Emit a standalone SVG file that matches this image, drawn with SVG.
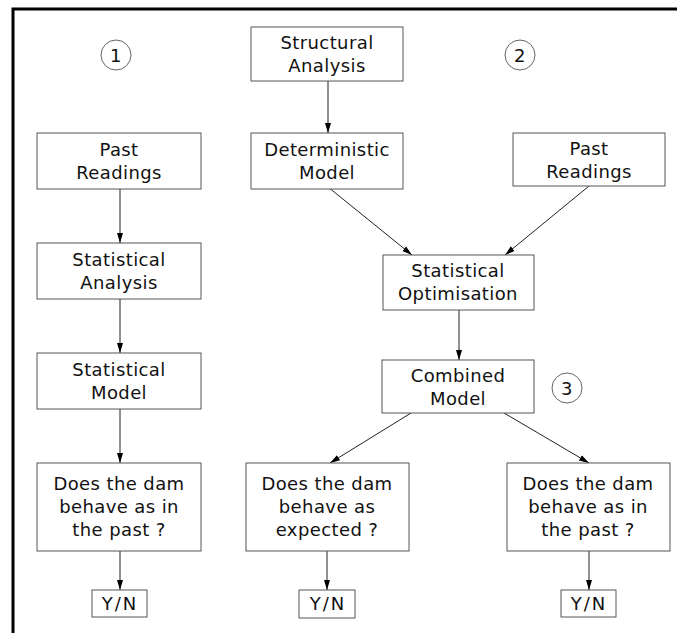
<svg xmlns="http://www.w3.org/2000/svg" width="677" height="633" viewBox="0 0 677 633">
<style>
.box{fill:#fff;stroke:#555;stroke-width:1}
.t{font-family:"DejaVu Sans",sans-serif;font-size:18px;letter-spacing:0.4px;fill:#111;text-anchor:middle}
.yn{letter-spacing:2px}
.c{fill:#fff;stroke:#666;stroke-width:1}
.e{stroke:#222;stroke-width:1;fill:none;marker-end:url(#ah)}
</style>
<defs>
<marker id="ah" viewBox="0 0 10 10" refX="10" refY="5" markerWidth="10" markerHeight="10" markerUnits="userSpaceOnUse" orient="auto">
<path d="M0,2 L10,5 L0,8 Z" fill="#000"/>
</marker>
</defs>
<rect width="677" height="633" fill="#fff"/>
<path d="M13,633 L13,9 L677,9" fill="none" stroke="#000" stroke-width="3"/>
<g id="connectors">
<line class="e" x1="120" y1="189" x2="120" y2="243"/>
<line class="e" x1="120" y1="299" x2="120" y2="353"/>
<line class="e" x1="120" y1="409" x2="120" y2="463"/>
<line class="e" x1="120" y1="551" x2="120" y2="590"/>
<line class="e" x1="328" y1="81" x2="328" y2="133"/>
<line class="e" x1="328" y1="187" x2="412" y2="255"/>
<line class="e" x1="589" y1="186" x2="505" y2="255"/>
<line class="e" x1="459" y1="310" x2="459" y2="360"/>
<line class="e" x1="411" y1="413" x2="330" y2="463"/>
<line class="e" x1="504" y1="413" x2="589" y2="463"/>
<line class="e" x1="327" y1="551" x2="327" y2="590"/>
<line class="e" x1="589" y1="551" x2="589" y2="590"/>
</g>
<g id="n1"><circle class="c" cx="116" cy="55" r="15"/><text class="t" x="116" y="61.5">1</text></g>
<g id="n2"><circle class="c" cx="520" cy="55" r="15"/><text class="t" x="520" y="61.5">2</text></g>
<g id="n3"><circle class="c" cx="567" cy="388" r="15"/><text class="t" x="567" y="394.5">3</text></g>
<g id="structural"><rect class="box" x="251" y="27" width="152" height="54"/><text class="t" x="327" y="49">Structural</text><text class="t" x="327" y="72">Analysis</text></g>
<g id="pastL"><rect class="box" x="37" y="133" width="164" height="56"/><text class="t" x="119" y="156">Past</text><text class="t" x="119" y="179">Readings</text></g>
<g id="determ"><rect class="box" x="251" y="133" width="152" height="56"/><text class="t" x="327" y="156">Deterministic</text><text class="t" x="327" y="179">Model</text></g>
<g id="pastR"><rect class="box" x="513" y="133" width="152" height="53"/><text class="t" x="589" y="155">Past</text><text class="t" x="589" y="178">Readings</text></g>
<g id="statAn"><rect class="box" x="37" y="243" width="164" height="56"/><text class="t" x="119" y="266">Statistical</text><text class="t" x="119" y="289">Analysis</text></g>
<g id="statOpt"><rect class="box" x="383" y="255" width="151" height="55"/><text class="t" x="458" y="277">Statistical</text><text class="t" x="458" y="300">Optimisation</text></g>
<g id="statMod"><rect class="box" x="37" y="353" width="164" height="56"/><text class="t" x="119" y="376">Statistical</text><text class="t" x="119" y="399">Model</text></g>
<g id="comb"><rect class="box" x="382" y="360" width="152" height="53"/><text class="t" x="458" y="382">Combined</text><text class="t" x="458" y="405">Model</text></g>
<g id="q1"><rect class="box" x="37" y="463" width="164" height="88"/><text class="t" x="119" y="490">Does the dam</text><text class="t" x="119" y="513">behave as in</text><text class="t" x="119" y="536">the past ?</text></g>
<g id="q2"><rect class="box" x="246" y="463" width="163" height="88"/><text class="t" x="327" y="490">Does the dam</text><text class="t" x="327" y="513">behave as</text><text class="t" x="327" y="536">expected ?</text></g>
<g id="q3"><rect class="box" x="507" y="463" width="163" height="88"/><text class="t" x="588" y="490">Does the dam</text><text class="t" x="588" y="513">behave as in</text><text class="t" x="588" y="536">the past ?</text></g>
<g id="yn1"><rect class="box" x="92" y="590" width="55" height="27"/><text class="t yn" x="120" y="610">Y/N</text></g>
<g id="yn2"><rect class="box" x="299" y="590" width="56" height="28"/><text class="t yn" x="328" y="610">Y/N</text></g>
<g id="yn3"><rect class="box" x="561" y="590" width="55" height="27"/><text class="t yn" x="589" y="610">Y/N</text></g>
</svg>
